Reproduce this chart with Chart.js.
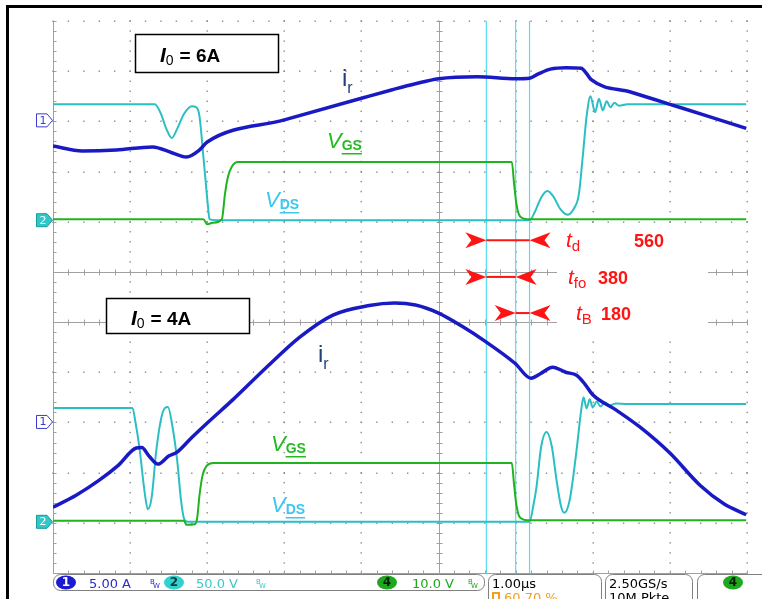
<!DOCTYPE html>
<html><head><meta charset="utf-8">
<script src="https://cdn.jsdelivr.net/npm/chart.js@4/dist/chart.umd.min.js"></script>
<style>html,body{margin:0;padding:0;background:#fff}canvas{display:block}</style>
</head><body><canvas id="c" width="762" height="599"></canvas>
<script>
// Time in µs (1.00 µs/div, trigger at 0). Values in screen divisions (0 = bottom edge of graticule).
const topIr  = [[-5,8.51],[-4.62,8.41],[-4.18,8.43],[-3.71,8.49],[-3.45,8.37],[-3.27,8.29],[-3.10,8.43],[-3.00,8.59],[-2.0,9.03],[-1.0,9.46],[-0.6,9.63],[-0.3,9.75],[0.0,9.85],[0.5,9.89],[1.0,9.85],[1.18,9.86],[1.30,9.95],[1.45,10.04],[1.65,10.07],[1.85,10.06],[1.92,9.95],[1.98,9.83],[2.5,9.58],[3.0,9.34],[3.5,9.10],[3.99,8.86]];
const topVgs = [[-5,7.05],[-3.05,7.05],[-3.00,6.95],[-2.93,6.98],[-2.81,7.05],[-2.77,7.55],[-2.73,7.90],[-2.68,8.10],[-2.60,8.19],[0.95,8.19],[0.98,7.75],[1.01,7.35],[1.04,7.15],[1.08,7.08],[1.15,7.05],[3.99,7.05]];
const topVds = [[-5,9.34],[-3.68,9.34],[-3.60,9.15],[-3.53,8.85],[-3.46,8.67],[-3.39,8.85],[-3.30,9.15],[-3.20,9.30],[-3.14,9.28],[-3.10,9.10],[-3.05,8.30],[-3.02,7.80],[-2.99,7.30],[-2.97,7.05],[-2.90,7.03],[1.18,7.03],[1.25,7.20],[1.33,7.48],[1.41,7.61],[1.49,7.50],[1.58,7.25],[1.67,7.14],[1.75,7.25],[1.82,7.55],[1.87,8.30],[1.92,9.10],[1.97,9.50],[2.03,9.18],[2.08,9.45],[2.13,9.22],[2.18,9.40],[2.23,9.28],[2.28,9.37],[2.34,9.31],[2.45,9.34],[3.99,9.34]];
const botIr  = [[-5,1.31],[-4.7,1.55],[-4.4,1.85],[-4.15,2.15],[-3.92,2.49],[-3.85,2.50],[-3.75,2.32],[-3.64,2.17],[-3.50,2.33],[-3.39,2.41],[-3.2,2.70],[-3.0,2.99],[-2.67,3.45],[-2.23,4.10],[-1.80,4.70],[-1.37,5.14],[-0.9,5.33],[-0.57,5.38],[-0.3,5.34],[0.0,5.18],[0.3,4.92],[0.62,4.60],[0.99,4.18],[1.2,3.88],[1.32,3.97],[1.48,4.10],[1.65,4.00],[1.79,3.94],[1.9,3.76],[2.0,3.55],[2.3,3.25],[2.61,2.91],[3.0,2.39],[3.39,1.75],[3.7,1.38],[3.99,1.16]];
const botVgs = [[-5,1.04],[-3.30,1.04],[-3.27,0.96],[-3.16,0.97],[-3.13,1.10],[-3.10,1.55],[-3.06,1.95],[-3.01,2.13],[-2.92,2.19],[0.95,2.19],[0.98,1.75],[1.01,1.35],[1.04,1.15],[1.08,1.08],[1.15,1.05],[3.99,1.05]];
const botVds = [[-5,3.29],[-3.97,3.29],[-3.93,3.00],[-3.88,2.51],[-3.81,1.59],[-3.77,1.27],[-3.72,1.51],[-3.66,2.45],[-3.58,3.19],[-3.51,3.31],[-3.45,2.91],[-3.39,2.25],[-3.34,1.45],[-3.30,1.08],[-3.25,1.02],[1.18,1.02],[1.23,1.35],[1.27,1.71],[1.33,2.51],[1.40,2.81],[1.47,2.51],[1.53,1.85],[1.59,1.32],[1.63,1.20],[1.70,1.45],[1.79,2.45],[1.85,3.25],[1.88,3.50],[1.92,3.28],[1.96,3.46],[2.00,3.30],[2.05,3.42],[2.10,3.32],[2.16,3.40],[2.22,3.34],[2.30,3.38],[2.45,3.37],[3.99,3.37]];
const cursors = [0.62, 1.00, 1.18];
const spans = [[0.62, 1.18, 6.63], [0.62, 1.00, 5.90], [1.00, 1.18, 5.18]];
const spanLabels = [["t","d","560"], ["t","fo","380"], ["t","B","180"]];
const ch1Offsets = [9.02, 3.01];
const ch2Offsets = [7.03, 1.02];
const gridX = [-5,-4,-3,-2,-1,0,1,2,3,4];
const gridY = [0,1,2,3,4,5,6,7,8,9,10,11];
const boxLabels = ["6A", "4A"];

const BLUE = '#1a1ac4', CYAN = '#2bbfc4', GREEN = '#1fb41f', CUR = '#55dcee', RED = '#ff1414';
const pts = a => a.map(p => ({x: p[0], y: p[1]}));

function trace(label, data, color, w) {
  return {label, data: pts(data), borderColor: color, borderWidth: w, pointRadius: 0, showLine: true, fill: false, cubicInterpolationMode: 'monotone'};
}
const datasets = [
  trace('ir top', topIr, BLUE, 3.5),
  trace('ir bottom', botIr, BLUE, 3.5),
  trace('Vgs top', topVgs, GREEN, 2),
  trace('Vgs bottom', botVgs, GREEN, 2),
  trace('Vds top', topVds, CYAN, 2),
  trace('Vds bottom', botVds, CYAN, 2),
];
spans.forEach((s, i) => datasets.push({label: 'span' + i, arrow: true, data: [{x: s[0], y: s[2]}, {x: s[1], y: s[2]}], borderColor: RED, borderWidth: 2, pointRadius: 0, showLine: true}));
cursors.forEach((c, i) => datasets.push({label: 'cursor' + i, data: [{x: c, y: 0}, {x: c, y: 11}], borderColor: CUR, borderWidth: 1.2, pointRadius: 0, showLine: true}));

function sub(ctx, main, s, x, y, mf, sf, color, dy, underline) {
  ctx.fillStyle = color; ctx.font = mf; ctx.textBaseline = 'alphabetic';
  ctx.fillText(main, x, y);
  const w = ctx.measureText(main).width;
  ctx.font = sf; ctx.fillText(s, x + w, y + dy);
  const w2 = ctx.measureText(s).width;
  if (underline) { ctx.fillRect(x + w, y + dy + 3, w2, 1.5); }
  return x + w + w2;
}
function pill(ctx, cx, cy, fill, txt, tcol) {
  ctx.fillStyle = fill; ctx.beginPath(); ctx.ellipse(cx, cy, 10, 7, 0, 0, Math.PI * 2); ctx.fill();
  ctx.fillStyle = tcol; ctx.font = 'bold 12px "DejaVu Sans"'; ctx.textAlign = 'center'; ctx.textBaseline = 'middle';
  ctx.fillText(txt, cx, cy + 0.5); ctx.textAlign = 'left'; ctx.textBaseline = 'alphabetic';
}
function rrect(ctx, x, y, w, h, r) {
  ctx.beginPath(); ctx.roundRect(x, y, w, h, r); ctx.stroke();
}

const scope = {
  id: 'scope',
  beforeDraw(chart) {
    const ctx = chart.ctx, xs = chart.scales.x, ys = chart.scales.y;
    ctx.save();
    ctx.fillStyle = '#fff'; ctx.fillRect(0, 0, chart.width, chart.height);
    const L = xs.left, R = xs.right, T = ys.top, B = ys.bottom;
    gridX.forEach(t => {
      const px = Math.round(xs.getPixelForValue(t)) + 0.5;
      if (t === -5 || t === 0) {
        ctx.strokeStyle = '#a0a0a0'; ctx.lineWidth = 1;
        ctx.beginPath(); ctx.moveTo(px, T); ctx.lineTo(px, B); ctx.stroke();
        for (let v = 0; v <= 11.001; v += 0.2) {
          const py = Math.round(ys.getPixelForValue(v)) + 0.5;
          ctx.beginPath(); ctx.moveTo(t === 0 ? px - 3 : px, py); ctx.lineTo(px + 3, py); ctx.stroke();
        }
      } else {
        ctx.fillStyle = '#8a8a8a';
        for (let v = 0; v <= 11.001; v += 0.2) {
          const py = ys.getPixelForValue(v);
          ctx.fillRect(px - 1, py - 0.7, 1.4, 1.4);
        }
      }
    });
    gridY.forEach(v => {
      const py = Math.round(ys.getPixelForValue(v)) + 0.5;
      if (v === 5 || v === 6 || v === 0) {
        ctx.strokeStyle = '#a0a0a0'; ctx.lineWidth = 1;
        ctx.beginPath(); ctx.moveTo(L, py); ctx.lineTo(R, py); ctx.stroke();
        for (let t = -5; t <= 4.001; t += 0.2) {
          const px = Math.round(xs.getPixelForValue(t)) + 0.5;
          ctx.beginPath(); ctx.moveTo(px, py - 3); ctx.lineTo(px, v === 0 ? py : py + 3); ctx.stroke();
        }
      } else {
        ctx.fillStyle = '#8a8a8a';
        for (let t = -5; t <= 4.001; t += 0.2) {
          const px = xs.getPixelForValue(t);
          ctx.fillRect(px - 0.7, py - 1, 1.4, 1.4);
        }
      }
    });
    ctx.fillStyle = '#fff';
    ctx.fillRect(557, 228, 151, 110);
    [[135, 34, 143, 38], [106, 298, 143, 35]].forEach(b => {
      ctx.fillStyle = '#fff'; ctx.fillRect(b[0], b[1], b[2], b[3]);
    });
    ctx.restore();
  },
  afterDatasetsDraw(chart) {
    const ctx = chart.ctx, xs = chart.scales.x, ys = chart.scales.y;
    ctx.save();
    chart.data.datasets.forEach((ds, i) => {
      if (!ds.arrow) return;
      const m = chart.getDatasetMeta(i).data;
      const a = m[0], b = m[1], y = a.y;
      ctx.fillStyle = RED;
      ctx.beginPath(); ctx.moveTo(a.x, y); ctx.lineTo(a.x - 21, y - 8); ctx.lineTo(a.x - 15, y); ctx.lineTo(a.x - 21, y + 8); ctx.closePath(); ctx.fill();
      ctx.beginPath(); ctx.moveTo(b.x, y); ctx.lineTo(b.x + 21, y - 8); ctx.lineTo(b.x + 15, y); ctx.lineTo(b.x + 21, y + 8); ctx.closePath(); ctx.fill();
    });
    const lx = [[566, 634], [568, 598], [576, 601]];
    spans.forEach((s, i) => {
      const py = ys.getPixelForValue(s[2]) + 7;
      sub(ctx, spanLabels[i][0], spanLabels[i][1], lx[i][0], py, 'italic 21px "Liberation Sans"', '15px "Liberation Sans"', RED, 4, false);
      ctx.font = 'bold 18px "Liberation Sans"'; ctx.fillStyle = RED; ctx.fillText(spanLabels[i][2], lx[i][1], py);
    });
    ctx.strokeStyle = '#000'; ctx.lineWidth = 1.5;
    [[135, 34, 143, 38, 160, 62], [106, 298, 143, 35, 131, 325]].forEach((b, i) => {
      ctx.strokeRect(b[0] + 0.5, b[1] + 0.5, b[2], b[3]);
      const e = sub(ctx, 'I', '0', b[4], b[5], 'italic bold 21px "Liberation Sans"', '14px "Liberation Sans"', '#000', 3, false);
      ctx.font = 'bold 19px "Liberation Sans"'; ctx.fillText('= ' + boxLabels[i], e + 6, b[5]);
    });
    sub(ctx, 'i', 'r', 342, 86, '24px "Liberation Sans"', '16px "Liberation Sans"', '#23407a', 7, false);
    sub(ctx, 'i', 'r', 318, 362, '24px "Liberation Sans"', '16px "Liberation Sans"', '#23407a', 7, false);
    sub(ctx, 'V', 'GS', 327, 148, 'italic 22px "Liberation Sans"', 'bold 14px "Liberation Sans"', '#22bb22', 2, true);
    sub(ctx, 'V', 'GS', 271, 451, 'italic 22px "Liberation Sans"', 'bold 14px "Liberation Sans"', '#22bb22', 2, true);
    sub(ctx, 'V', 'DS', 265, 207, 'italic 22px "Liberation Sans"', 'bold 14px "Liberation Sans"', '#3cc6f0', 2, true);
    sub(ctx, 'V', 'DS', 271, 512, 'italic 22px "Liberation Sans"', 'bold 14px "Liberation Sans"', '#3cc6f0', 2, true);
    const mk = (py, n, filled) => {
      ctx.beginPath(); ctx.moveTo(36.5, py - 6.5); ctx.lineTo(47, py - 6.5); ctx.lineTo(52.5, py); ctx.lineTo(47, py + 6.5); ctx.lineTo(36.5, py + 6.5); ctx.closePath();
      if (filled) { ctx.fillStyle = '#2ec8c8'; ctx.fill(); ctx.strokeStyle = '#1a9a9a'; ctx.lineWidth = 1; ctx.stroke(); }
      else { ctx.fillStyle = '#fff'; ctx.fill(); ctx.strokeStyle = '#3a3ad0'; ctx.lineWidth = 1; ctx.stroke(); }
      ctx.fillStyle = filled ? '#fff' : '#3a3ad0'; ctx.font = '11px "DejaVu Sans"'; ctx.textAlign = 'center'; ctx.textBaseline = 'middle';
      ctx.fillText(n, 43, py + 0.5); ctx.textAlign = 'left'; ctx.textBaseline = 'alphabetic';
    };
    ch1Offsets.forEach(v => mk(ys.getPixelForValue(v), '1', false));
    ch2Offsets.forEach(v => mk(ys.getPixelForValue(v), '2', true));
    ctx.strokeStyle = '#808080'; ctx.lineWidth = 1;
    rrect(ctx, 53.5, 574.5, 431, 16, 7);
    rrect(ctx, 488.5, 574.5, 113, 40, 7);
    rrect(ctx, 605.5, 574.5, 87, 40, 7);
    rrect(ctx, 697.5, 574.5, 80, 40, 7);
    pill(ctx, 66, 582.5, '#1a1ad0', '1', '#fff');
    pill(ctx, 174, 582.5, '#33d0d0', '2', '#0a3a3a');
    pill(ctx, 387, 582.5, '#1fa81f', '4', '#062006');
    pill(ctx, 733, 582.5, '#1fa81f', '4', '#062006');
    ctx.font = '13px "DejaVu Sans"';
    ctx.fillStyle = '#2a2ad0'; ctx.fillText('5.00 A', 89, 587.5);
    ctx.fillStyle = '#3cc8c8'; ctx.fillText('50.0 V', 196, 587.5);
    ctx.fillStyle = '#1fa81f'; ctx.fillText('10.0 V', 412, 587.5);
    ctx.fillStyle = '#000'; ctx.fillText('1.00µs', 492, 587.5); ctx.fillText('2.50GS/s', 609, 587.5); ctx.fillText('10M Pkte.', 609, 602);
    ctx.fillStyle = '#f0a020'; ctx.fillText('60.70 %', 504, 602);
    ctx.fillRect(492, 592, 8, 7); ctx.fillStyle = '#fff'; ctx.fillRect(494, 594, 4, 5);
    ctx.font = '7px "DejaVu Sans"';
    [[150, '#2a2ad0'], [256, '#3cc8c8'], [468, '#1fa81f']].forEach(b => { ctx.fillStyle = b[1]; ctx.fillText('B', b[0], 584); ctx.fillText('W', b[0] + 3, 588); });
    ctx.strokeStyle = '#000'; ctx.lineWidth = 3;
    ctx.beginPath(); ctx.moveTo(7.5, chart.height); ctx.lineTo(7.5, 6.5); ctx.lineTo(chart.width, 6.5); ctx.stroke();
    ctx.restore();
  }
};

new Chart(document.getElementById('c'), {
  type: 'scatter',
  data: {datasets},
  options: {
    responsive: false, animation: false, events: [],
    layout: {padding: {left: 53, top: 21, right: 15, bottom: 26}},
    plugins: {legend: {display: false}, tooltip: {enabled: false}},
    scales: {
      x: {type: 'linear', min: -5, max: 4, display: false},
      y: {type: 'linear', min: 0, max: 11, display: false}
    }
  },
  plugins: [scope]
});
</script>
</body></html>
